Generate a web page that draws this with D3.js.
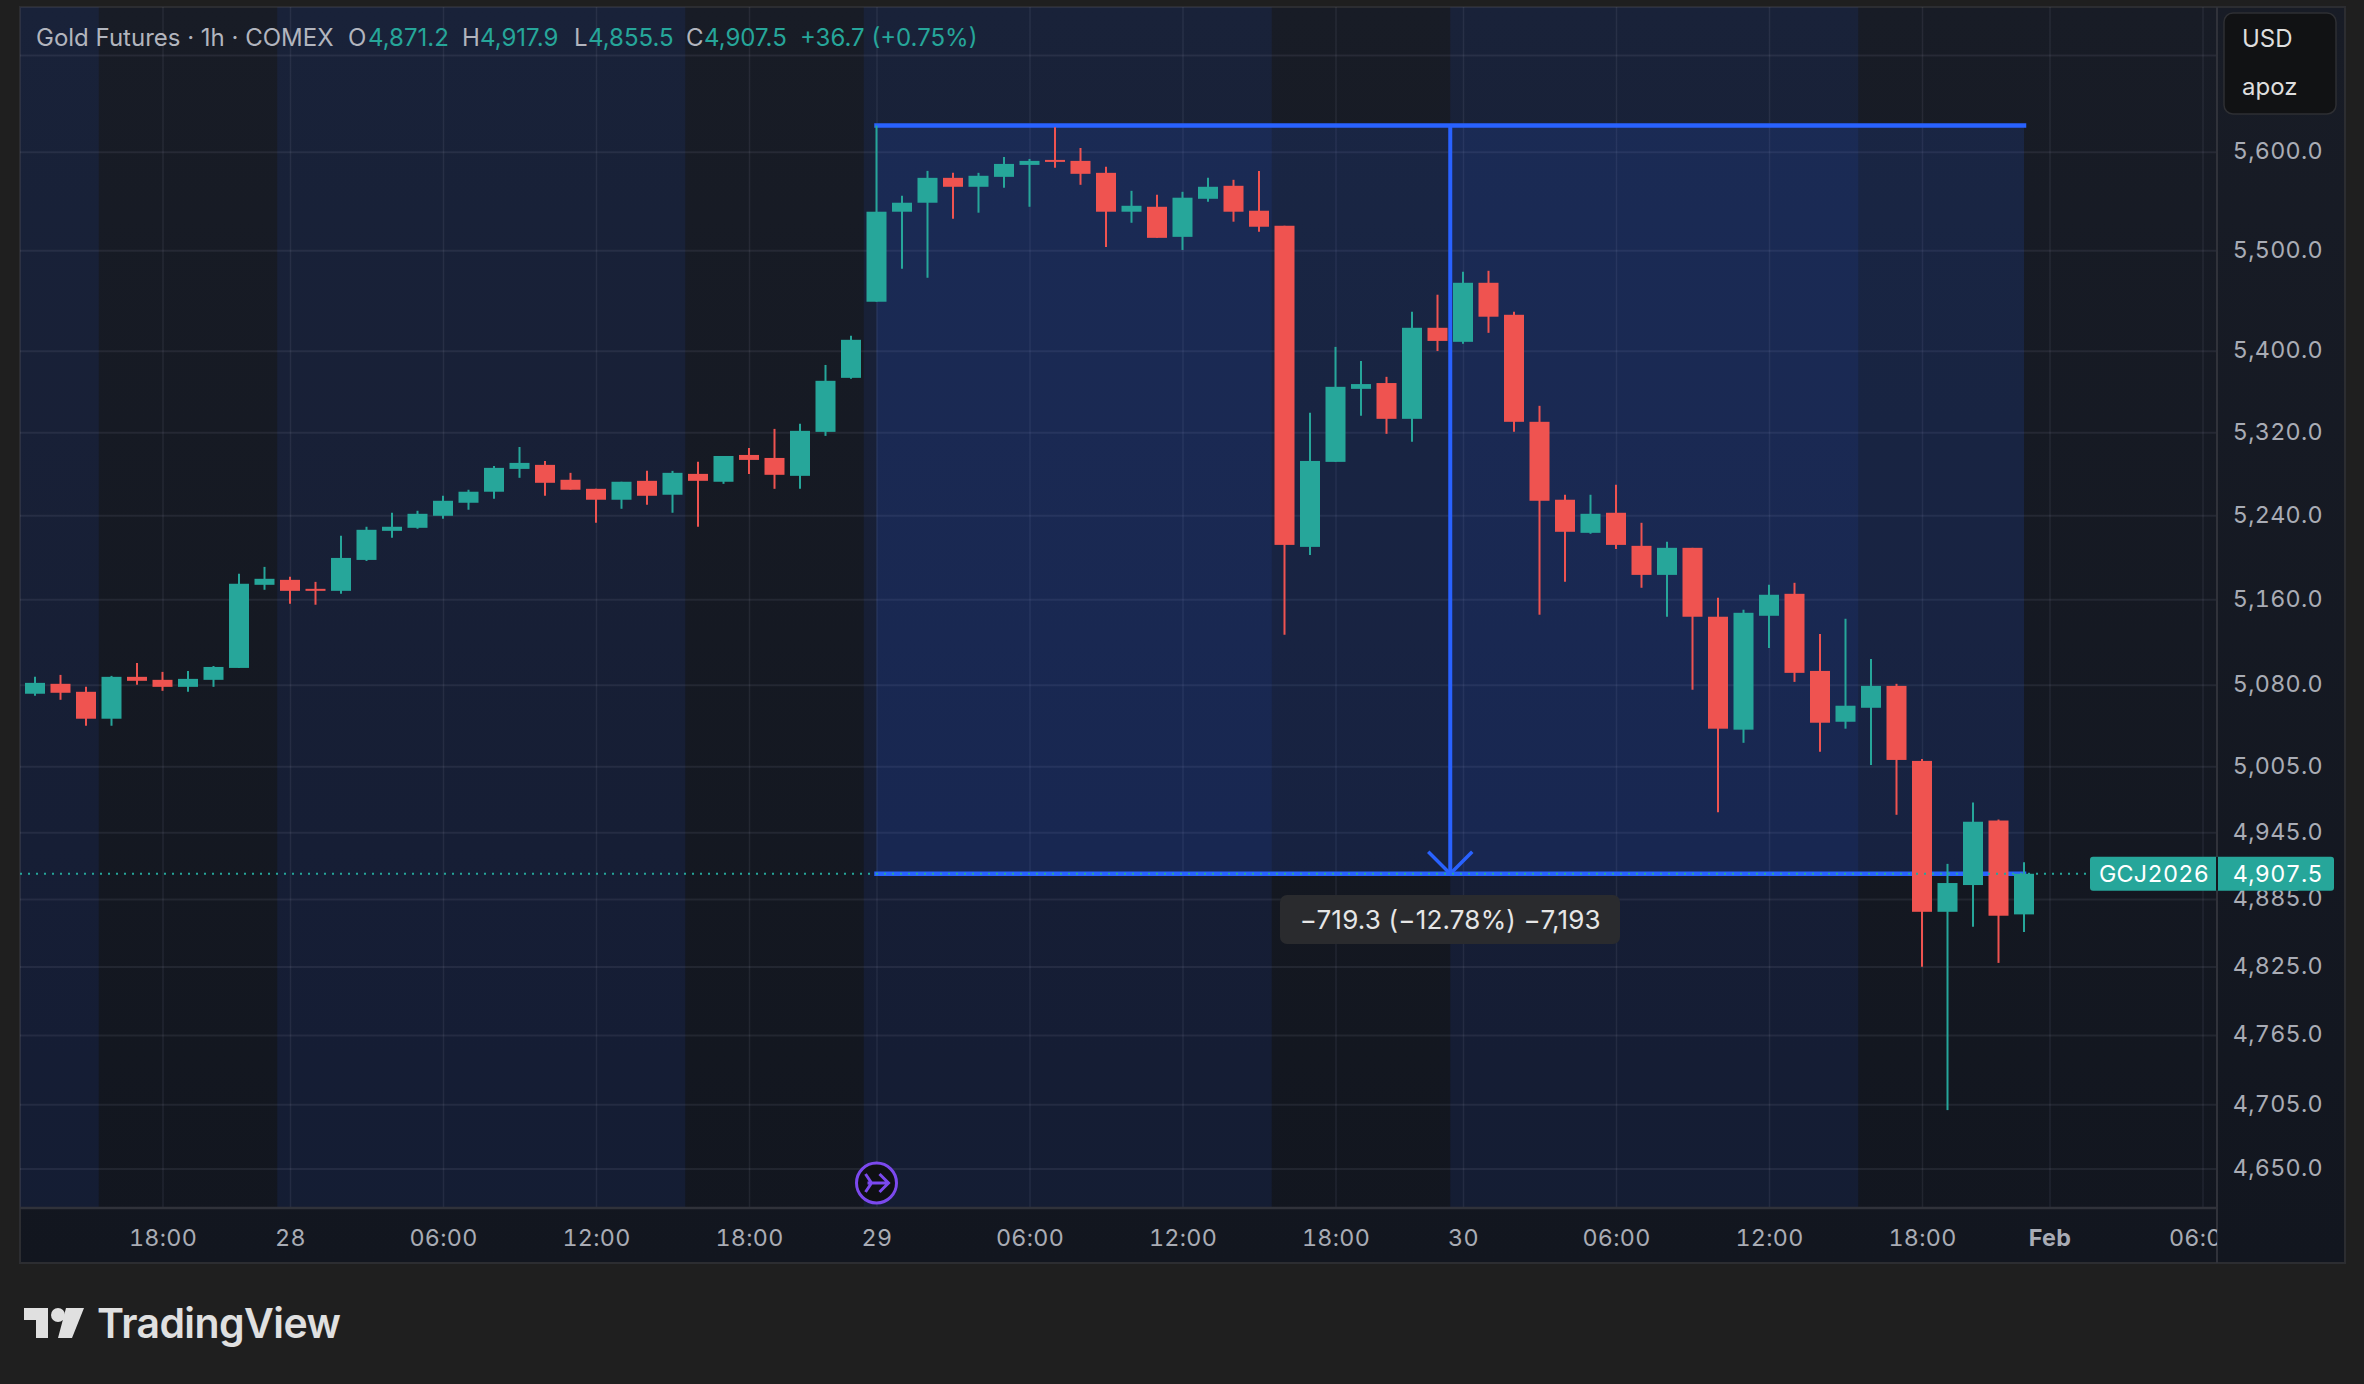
<!DOCTYPE html>
<html>
<head>
<meta charset="utf-8">
<script src="https://cdnjs.cloudflare.com/ajax/libs/d3/7.8.5/d3.min.js"></script>
<style>
  html, body { margin: 0; padding: 0; background: #1f1f1f; }
  svg { display: block; font-family: Inter, "Noto Sans", sans-serif; }
  .tabular { font-variant-numeric: tabular-nums; }
</style>
</head>
<body>
<svg id="chart" width="2364" height="1384"></svg>
<script>
// hourly bars, first one is Jan 27 13:00, x is the bar number
const opens = [5071.7,5080.9,5073.5,5048.6,5087.4,5084.6,5078.1,5084.6,5095.7,5173.7,
  5178.4,5169.9,5168.0,5197.3,5225.0,5227.9,5239.4,5251.9,5262.5,5284.5,
  5288.4,5274.0,5265.3,5254.8,5273.0,5259.6,5279.7,5272.1,5298.0,5295.1,
  5277.8,5320.4,5373.2,5448.5,5538.9,5548.0,5573.3,5564.2,5574.3,5586.5,
  5591.6,5590.6,5578.4,5538.9,5543.9,5513.5,5552.0,5565.2,5539.9,5524.7,
  5209.7,5291.3,5362.4,5368.1,5333.1,5422.6,5408.7,5467.4,5435.5,5330.2,
  5254.8,5223.1,5242.3,5210.7,5183.1,5208.8,5143.6,5038.5,5144.5,5165.2,
  5092.9,5045.8,5058.7,5079.0,5009.8,4873.5,4897.4,4955.5,4871.2];
const highs = [5087.4,5089.2,5078.1,5088.3,5100.3,5092.0,5092.9,5097.5,5184.1,5190.7,
  5181.3,5176.5,5220.2,5228.9,5242.3,5244.2,5258.6,5264.4,5287.4,5305.7,
  5292.2,5280.7,5265.3,5272.1,5282.6,5282.6,5291.3,5297.0,5304.7,5323.3,
  5328.2,5385.9,5414.6,5626.8,5555.1,5580.4,5578.4,5578.4,5594.6,5592.6,
  5625.1,5603.8,5584.5,5560.1,5556.1,5559.1,5573.3,5571.3,5580.4,5524.7,
  5339.0,5403.7,5389.8,5374.2,5438.5,5455.5,5478.4,5479.4,5438.5,5345.8,
  5259.6,5259.6,5269.2,5232.7,5214.5,5208.8,5161.5,5150.2,5173.7,5175.6,
  5127.5,5141.7,5104.0,5080.9,5011.6,4916.4,4971.8,4956.4,4917.9];
const lows = [5069.8,5066.1,5042.1,5042.1,5080.0,5074.4,5073.5,5078.1,5095.7,5169.0,
  5155.8,5154.9,5165.2,5196.3,5218.3,5227.0,5236.5,5245.2,5255.7,5275.9,
  5258.6,5264.4,5232.7,5246.1,5250.0,5242.3,5228.9,5270.1,5279.7,5265.3,
  5265.3,5316.5,5372.2,5448.5,5481.4,5472.4,5531.8,5537.9,5563.2,5543.9,
  5583.5,5566.2,5503.4,5527.7,5512.5,5500.3,5549.0,5528.8,5518.7,5126.6,
  5202.0,5291.3,5336.0,5318.5,5310.7,5399.6,5406.7,5417.6,5320.4,5145.5,
  5176.5,5222.2,5207.8,5170.9,5143.6,5075.4,4962.9,5026.4,5114.4,5082.7,
  5018.1,5039.4,5006.1,4960.7,4824.8,4700.0,4860.2,4828.2,4855.5];
const closes = [5081.8,5072.6,5048.6,5087.4,5083.7,5078.1,5085.5,5096.6,5174.7,5179.4,
  5168.0,5168.0,5199.2,5226.0,5228.9,5241.3,5253.8,5262.5,5285.5,5290.3,
  5271.1,5264.4,5254.8,5272.1,5258.6,5280.7,5273.0,5297.0,5293.2,5278.8,
  5321.4,5370.3,5410.7,5538.9,5548.0,5573.3,5564.2,5575.4,5587.5,5590.6,
  5589.6,5577.4,5538.9,5544.9,5512.5,5553.1,5564.2,5538.9,5523.7,5211.6,
  5292.2,5364.4,5367.1,5333.1,5422.6,5409.6,5467.4,5433.6,5330.2,5253.8,
  5224.1,5241.3,5211.6,5183.1,5208.8,5143.6,5039.4,5147.3,5164.3,5091.1,
  5044.9,5060.6,5079.0,5010.7,4873.5,4899.2,4954.4,4870.0,4907.5];

const priceTicks = [5600,5500,5400,5320,5240,5160,5080,5005,4945,4885,4825,4765,4705,4650];
const priceGrid = [5700].concat(priceTicks);
const timeTickBars = [5,10,16,22,28,33,39,45,51,56,62,68,74,79,85];
const timeTickLabels = ["18:00","28","06:00","12:00","18:00","29","06:00","12:00","18:00","30","06:00","12:00","18:00","Feb","06:00"];
// regular session bands, in bar numbers
const sessionBands = [[-0.6,2.5],[9.5,25.5],[32.5,48.5],[55.5,71.5]];

const measureBars = [33, 78];
const measurePrices = [5626.8, 4907.5];
const lastPrice = 4907.5;

const green = "#26a69a", red = "#ef5350", blue = "#2962ff";
const textGrey = "#a9acb5";
const left = 20, top_ = 7, right = 2217, bottom = 1208, outerRight = 2345, outerBottom = 1263;

const x = d3.scaleLinear().domain([0, 85]).range([35, 2202.5]);
const y = d3.scaleLog().domain([5600, 4650]).range([151.7, 1168.6]);

const svg = d3.select("#chart");
const defs = svg.append("defs");
const bg = defs.append("linearGradient").attr("id", "paneBg").attr("x1", 0).attr("x2", 0).attr("y1", 0).attr("y2", 1);
bg.append("stop").attr("offset", 0).attr("stop-color", "#181c26");
bg.append("stop").attr("offset", 1).attr("stop-color", "#12161f");
defs.append("clipPath").attr("id", "paneClip").append("rect")
  .attr("x", left).attr("y", top_).attr("width", right - left).attr("height", bottom - top_);
defs.append("clipPath").attr("id", "timeClip").append("rect")
  .attr("x", left).attr("y", bottom).attr("width", right - left).attr("height", outerBottom - bottom);

// background of pane and axes
svg.append("rect").attr("x", left).attr("y", top_).attr("width", outerRight - left).attr("height", outerBottom - top_)
  .attr("fill", "url(#paneBg)").attr("stroke", "#2c2d31").attr("stroke-width", 2);

const pane = svg.append("g").attr("clip-path", "url(#paneClip)");

pane.append("g").selectAll("rect").data(sessionBands).join("rect")
  .attr("x", d => x(d[0])).attr("width", d => x(d[1]) - x(d[0]))
  .attr("y", top_).attr("height", bottom - top_)
  .attr("fill", blue).attr("fill-opacity", 0.09);

// grid, made by the axes with long ticks
const gridY = pane.append("g").attr("transform", `translate(${left},0)`)
  .call(d3.axisRight(y).tickValues(priceGrid).tickSize(right - left).tickFormat(""));
const gridX = pane.append("g").attr("transform", `translate(0,${bottom})`)
  .call(d3.axisTop(x).tickValues(timeTickBars).tickSize(bottom - top_).tickFormat(""));
gridY.select(".domain").remove();
gridX.select(".domain").remove();
gridY.selectAll("line").attr("stroke", "#d6dcf0").attr("stroke-opacity", 0.08).attr("stroke-width", 2);
gridX.selectAll("line").attr("stroke", "#d6dcf0").attr("stroke-opacity", 0.08).attr("stroke-width", 1.5);

// measure box fill goes under the candles
pane.append("rect")
  .attr("x", x(measureBars[0])).attr("width", x(measureBars[1]) - x(measureBars[0]))
  .attr("y", y(measurePrices[0])).attr("height", y(measurePrices[1]) - y(measurePrices[0]))
  .attr("fill", blue).attr("fill-opacity", 0.14);

const midX = x((measureBars[0] + measureBars[1]) / 2);
const measure = pane.append("g").attr("stroke", blue).attr("fill", "none");
measure.append("line").attr("x1", x(measureBars[0])).attr("x2", x(measureBars[1]))
  .attr("y1", y(measurePrices[0])).attr("y2", y(measurePrices[0])).attr("stroke-width", 4.5).attr("stroke-linecap", "square");
measure.append("line").attr("x1", x(measureBars[0])).attr("x2", x(measureBars[1]))
  .attr("y1", y(measurePrices[1])).attr("y2", y(measurePrices[1])).attr("stroke-width", 4.5).attr("stroke-linecap", "square");
measure.append("line").attr("x1", midX).attr("x2", midX)
  .attr("y1", y(measurePrices[0])).attr("y2", y(measurePrices[1])).attr("stroke-width", 4);
measure.append("path")
  .attr("d", `M${midX - 22},${y(measurePrices[1]) - 22}L${midX},${y(measurePrices[1])}L${midX + 22},${y(measurePrices[1]) - 22}`)
  .attr("stroke-width", 3.5);

// candles
const bars = d3.range(opens.length);
const colorOf = i => (closes[i] >= opens[i] ? green : red);
pane.append("g").selectAll("line").data(bars).join("line")
  .attr("x1", i => x(i)).attr("x2", i => x(i))
  .attr("y1", i => y(highs[i])).attr("y2", i => y(lows[i]))
  .attr("stroke", colorOf).attr("stroke-width", 2);
pane.append("g").selectAll("rect").data(bars).join("rect")
  .attr("x", i => x(i) - 10).attr("width", 20)
  .attr("y", i => y(Math.max(opens[i], closes[i])))
  .attr("height", i => Math.max(2, Math.abs(y(opens[i]) - y(closes[i]))))
  .attr("fill", colorOf);

// last price dotted line
pane.append("line").attr("x1", left).attr("x2", right)
  .attr("y1", y(lastPrice)).attr("y2", y(lastPrice))
  .attr("stroke", green).attr("stroke-width", 2).attr("stroke-dasharray", "2 6");

// event marker on the 29th
const mark = svg.append("g").attr("transform", `translate(${x(33)},1183)`);
mark.append("circle").attr("r", 20).attr("fill", "#0f1014").attr("stroke", "#7b49ee").attr("stroke-width", 3);
mark.append("path").attr("d", "M-9,0H12M3,-9L12,0L3,9M-11,-9L-5,0L-11,9")
  .attr("fill", "none").attr("stroke", "#7b49ee").attr("stroke-width", 3);

// axis lines
svg.append("line").attr("x1", left).attr("x2", right).attr("y1", bottom).attr("y2", bottom).attr("stroke", "#30323a").attr("stroke-width", 2.5);
svg.append("line").attr("x1", right).attr("x2", right).attr("y1", top_).attr("y2", outerBottom).attr("stroke", "#30323a").attr("stroke-width", 2);

// price axis
const priceAxis = svg.append("g").attr("transform", `translate(${right},0)`)
  .call(d3.axisRight(y).tickValues(priceTicks).tickSize(0).tickFormat(d3.format(",.1f")));
priceAxis.select(".domain").remove();
priceAxis.selectAll("text")
  .attr("class", "tabular")
  .attr("x", 106).attr("dy", "0.3em").attr("text-anchor", "end")
  .attr("fill", textGrey).attr("font-size", 23.3).attr("font-family", "Inter").attr("letter-spacing", 0.3);

// time axis
const timeAxis = svg.append("g").attr("clip-path", "url(#timeClip)").append("g").attr("transform", `translate(0,${bottom})`)
  .call(d3.axisBottom(x).tickValues(timeTickBars).tickSize(0).tickFormat((d, i) => timeTickLabels[i]));
timeAxis.select(".domain").remove();
timeAxis.selectAll("text")
  .attr("class", "tabular")
  .attr("y", 38).attr("dy", 0).attr("fill", textGrey).attr("font-size", 23.3).attr("font-family", "Inter").attr("letter-spacing", 0.3)
  .attr("font-weight", (d, i) => (timeTickLabels[i] === "Feb" ? 700 : 400));

// legend
const legend = svg.append("g").attr("font-size", 24).attr("fill", "#b2b5be");
const legendItems = [
  ["Gold Futures · 1h · COMEX", 36, "#b2b5be"],
  ["O", 348, "#b2b5be"], ["4,871.2", 368, green],
  ["H", 462, "#b2b5be"], ["4,917.9", 480, green],
  ["L", 574, "#b2b5be"], ["4,855.5", 588, green],
  ["C", 686, "#b2b5be"], ["4,907.5", 704, green],
  ["+36.7 (+0.75%)", 800, green]
];
legend.selectAll("text").data(legendItems).join("text")
  .attr("x", d => d[1]).attr("y", 46).attr("fill", d => d[2]).text(d => d[0]);

// currency box
svg.append("rect").attr("x", 2224).attr("y", 13).attr("width", 112).attr("height", 101).attr("rx", 9)
  .attr("fill", "#111214").attr("stroke", "#2e2f33").attr("stroke-width", 1.5);
svg.append("text").attr("x", 2242).attr("y", 47).attr("font-size", 24).attr("fill", "#dedede").text("USD");
svg.append("text").attr("x", 2242).attr("y", 95).attr("font-size", 24).attr("fill", "#dedede").text("apoz");

// last price label
const labelY = y(lastPrice);
svg.append("rect").attr("x", 2090).attr("y", labelY - 17).attr("width", 244).attr("height", 34).attr("rx", 3).attr("fill", green);
svg.append("line").attr("x1", right).attr("x2", right).attr("y1", labelY - 17).attr("y2", labelY + 17).attr("stroke", "#14181f").attr("stroke-width", 2);
svg.append("text").attr("class", "tabular").attr("x", 2154).attr("y", labelY).attr("dy", "0.36em").attr("text-anchor", "middle")
  .attr("font-size", 23.3).attr("fill", "#fff").attr("letter-spacing", 0.3).text("GCJ2026");
svg.append("text").attr("class", "tabular").attr("x", 2323).attr("y", labelY).attr("dy", "0.36em").attr("text-anchor", "end")
  .attr("font-size", 23.3).attr("fill", "#fff").attr("letter-spacing", 0.3).text(d3.format(",.1f")(lastPrice));

// measure label
svg.append("rect").attr("x", 1280).attr("y", 895).attr("width", 340).attr("height", 49).attr("rx", 7).attr("fill", "#2a2b2e");
svg.append("text").attr("x", midX).attr("y", 920).attr("dy", "0.35em").attr("text-anchor", "middle")
  .attr("font-size", 26).attr("letter-spacing", 0.2).attr("fill", "#e6e6e6").text("−719.3 (−12.78%) −7,193");

// footer logo
svg.append("path").attr("fill", "#e0e0e0").attr("d", "M24,1308H48V1338H36V1320H24Z M66,1308H84L72,1338H58Z");
svg.append("circle").attr("cx", 58).attr("cy", 1315).attr("r", 7).attr("fill", "#e0e0e0");
svg.append("text").attr("x", 97).attr("y", 1338).attr("font-size", 41).attr("font-weight", 600)
  .attr("letter-spacing", -0.6).attr("fill", "#e0e0e0").text("TradingView");
</script>
</body>
</html>
